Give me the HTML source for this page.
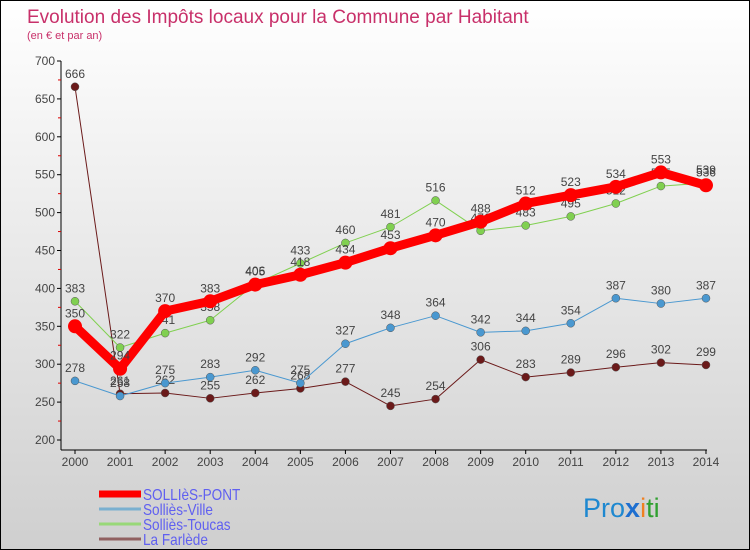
<!DOCTYPE html>
<html><head><meta charset="utf-8"><style>
html,body{margin:0;padding:0;}
body{width:750px;height:550px;overflow:hidden;font-family:"Liberation Sans",sans-serif;}
#wrap{position:relative;width:748px;height:548px;border:1px solid #000;background:linear-gradient(#ffffff,#cfcfcf);}
</style></head><body>
<div id="wrap">
<svg id="chart" width="748" height="548" style="position:absolute;left:0;top:0">
<text x="26" y="22" font-size="19" fill="#c8306a">Evolution des Impôts locaux pour la Commune par Habitant</text>
<text x="26" y="38" font-size="11" fill="#c8306a">(en € et par an)</text>
<g id="axes"></g><g id="series"></g><g id="legend"></g>
<text x="582" y="516" font-size="27"><tspan fill="#1e88d0">Pro</tspan><tspan fill="#1e6fd0" font-weight="bold">x</tspan><tspan fill="#f08020">i</tspan><tspan fill="#30a030">ti</tspan></text>
</svg>
</div>
<script>
const years=[2000,2001,2002,2003,2004,2005,2006,2007,2008,2009,2010,2011,2012,2013,2014];
const yTicks=[200,250,300,350,400,450,500,550,600,650,700];
const solliesPont=[350,294,370,383,405,418,434,453,470,488,512,523,534,553,536];
const solliesVille=[278,258,275,283,292,275,327,348,364,342,344,354,387,380,387];
const solliesToucas=[383,322,341,358,406,433,460,481,516,476,483,495,512,535,539];
const laFarlede=[666,261,262,255,262,268,277,245,254,306,283,289,296,302,299];
const NS="http://www.w3.org/2000/svg";
function X(i){return 74+i*45.07;}
function Y(v){return 439-(v-200)*0.758;}
function mk(t,a,p){const e=document.createElementNS(NS,t);for(const k in a)e.setAttribute(k,a[k]);p.appendChild(e);return e;}
const axes=document.getElementById('axes');
let l=mk('line',{x1:60,y1:60,x2:60,y2:449,stroke:'#000'},axes);


l=mk('line',{x1:60,y1:449,x2:706,y2:449,stroke:'#000'},axes);


yTicks.forEach((v,i)=>{
 mk('line',{x1:56,y1:Y(v),x2:60,y2:Y(v),stroke:'#000'},axes);
 if(i<yTicks.length-1) mk('line',{x1:57,y1:Y(v+25),x2:60,y2:Y(v+25),stroke:'#d00'},axes);
 const t=mk('text',{x:54,y:Y(v)+4,'font-size':12,fill:'#444','text-anchor':'end'},axes);
 t.textContent=v;
 
 
});
years.forEach((y,i)=>{
 mk('line',{x1:X(i),y1:449,x2:X(i),y2:453,stroke:'#000'},axes);
 const t=mk('text',{x:X(i),y:465,'font-size':12,fill:'#444','text-anchor':'middle'},axes);
 t.textContent=y;
 
 
});
const series=[
 {name:'La Farlède',key:'la-farlede',data:laFarlede,color:'#6b1a1a',w:1,r:4},
 {name:'Solliès-Ville',key:'sollies-ville',data:solliesVille,color:'#4a98d0',w:1,r:4},
 {name:'Solliès-Toucas',key:'sollies-toucas',data:solliesToucas,color:'#80d050',w:1,r:4},
 {name:'SOLLIèS-PONT',key:'sollies-pont',data:solliesPont,color:'#ff0000',w:9,r:7}];
const sg=document.getElementById('series');
series.forEach(s=>{
 const g=mk('g',{},sg);
 
 
 const pl=mk('polyline',{points:s.data.map((v,i)=>X(i)+','+Y(v)).join(' '),fill:'none',stroke:s.color,'stroke-width':s.w,'stroke-linejoin':'round'},g);
 
 
 s.data.forEach((v,i)=>{
  const c=mk('circle',{cx:X(i),cy:Y(v),r:s.r,fill:s.color,stroke:s.w>1?'none':'#555','stroke-width':0.5},g);
  
  
  const t=mk('text',{x:X(i),y:Y(v)-9,'font-size':12,fill:'#444','text-anchor':'middle'},g);
  t.textContent=v;
  
  
 });
});
const lg=document.getElementById('legend');
const legendItems=[['SOLLIèS-PONT','#ff0000',7],['Solliès-Ville','#7ab0d0',3],['Solliès-Toucas','#98d878',3],['La Farlède','#906060',3]];
legendItems.forEach((it,i)=>{
 const y=493+i*15;
 const g=mk('g',{},lg);
 
 
 mk('line',{x1:98,y1:y,x2:140,y2:y,stroke:it[1],'stroke-width':it[2]},g);
 const t=mk('text',{x:142,y:y+6,'font-size':16,fill:'#6060f0',transform:'translate(142,0) scale(0.85,1) translate(-142,0)'},g);
 t.textContent=it[0];
});
</script>
</body></html>
